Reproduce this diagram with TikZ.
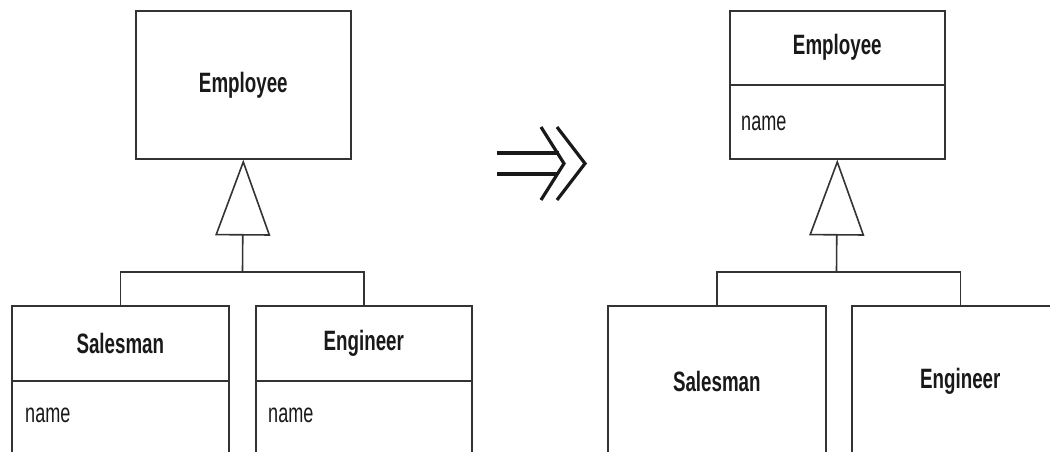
\documentclass[tikz,border=0pt]{standalone}
\usepackage{fontspec}
\newfontfamily\umlfont[FakeStretch=0.67]{Liberation Sans}
\usetikzlibrary{arrows.meta}
\begin{document}
\begin{tikzpicture}[x=1pt,y=-1pt,
  box/.style={draw=black!80, line width=1.6pt, rectangle, inner sep=0pt, anchor=north west},
  cname/.style={font=\umlfont\bfseries\fontsize{28}{32}\selectfont, text=black!90},
  attr/.style={font=\umlfont\fontsize{27}{32}\selectfont, text=black!90, anchor=west, inner sep=0pt},
  conn/.style={draw=black!80, line width=1.6pt},
  gen/.style={conn, -{Triangle[open, length=76pt, width=55pt]}},
  refsym/.style={draw=black!90, line width=3.2pt}
]
\useasboundingbox (0,0) rectangle (1050,452);
\clip (0,0) rectangle (1050,452);

% ---------- left diagram ----------
\node[box, cname, minimum width=215pt, minimum height=148pt] (emp1) at (135,10) {Employee};

\node[box, minimum width=217pt, minimum height=152pt] (sal1) at (11,305) {};
\draw[conn] ([yshift=-76pt]sal1.north west) -- ([yshift=-76pt]sal1.north east);
\node[cname] (sal1t) at ([yshift=-38pt]sal1.north) {Salesman};
\node[attr] (sal1a) at ([xshift=14pt,yshift=-110pt]sal1.north west) {name};

\node[box, minimum width=216pt, minimum height=152pt] (eng1) at (255,305) {};
\draw[conn] ([yshift=-76pt]eng1.north west) -- ([yshift=-76pt]eng1.north east);
\node[cname] (eng1t) at ([yshift=-38pt]eng1.north) {Engineer};
\node[attr] (eng1a) at ([xshift=13pt,yshift=-110pt]eng1.north west) {name};

\coordinate (j1) at (242.5,272);
\draw[conn] (sal1.north) |- (j1) -| (eng1.north);
\draw[gen] (j1) -- (emp1.south);

% ---------- refactoring symbol ----------
\draw[refsym] (497,153) -- (559,153);
\draw[refsym] (497,174) -- (558,174);
\draw[refsym] (541,127) -- (564,163.5) -- (541,200);
\draw[refsym] (557,127) -- (585,163.5) -- (557,200);

% ---------- right diagram ----------
\node[box, minimum width=215pt, minimum height=148pt] (emp2) at (729,10) {};
\draw[conn] ([yshift=-75pt]emp2.north west) -- ([yshift=-75pt]emp2.north east);
\node[cname] (emp2t) at ([yshift=-37.5pt]emp2.north) {Employee};
\node[attr] (emp2a) at ([xshift=12pt,yshift=-113pt]emp2.north west) {name};

\node[box, cname, minimum width=218pt, minimum height=152pt] (sal2) at (607,305) {Salesman};
\node[box, cname, minimum width=217pt, minimum height=152pt] (eng2) at (851,305) {Engineer};

\coordinate (j2) at (836.5,272);
\draw[conn] (sal2.north) |- (j2) -| (eng2.north);
\draw[gen] (j2) -- (emp2.south);
\end{tikzpicture}
\end{document}
